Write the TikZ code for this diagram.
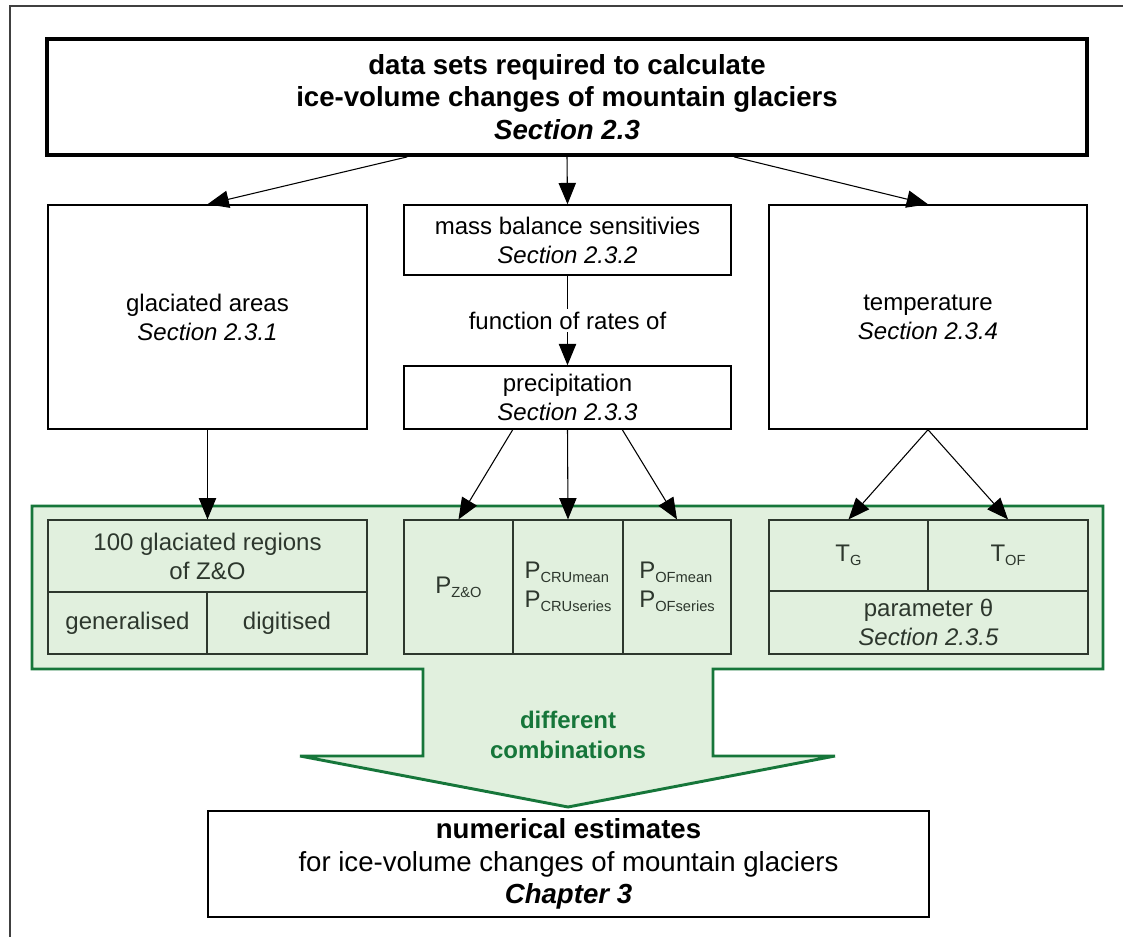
\documentclass[tikz,border=0pt]{standalone}
\usepackage{fontspec}
\setmainfont{Liberation Sans}
\usetikzlibrary{arrows.meta, positioning, calc}
\definecolor{framegreen}{RGB}{22,118,58}
\definecolor{palegreen}{RGB}{225,240,222}
\definecolor{cellline}{RGB}{45,55,45}
\newcommand{\lowsub}[1]{\raisebox{-3pt}{\fontsize{11}{11}\selectfont #1}}

\begin{document}
\begin{tikzpicture}[x=0.75pt, y=-0.75pt,
  txt/.style={font=\fontsize{18}{21.75}\selectfont, align=center},
  bigtxt/.style={font=\fontsize{20.7}{24.4}\selectfont, align=center},
  outerbox/.style={draw, line width=1.1pt, inner sep=0pt, txt},
  cell/.style={draw=cellline, line width=0.9pt, inner sep=0pt, text=cellline, txt},
  arr/.style={-{Triangle[length=16pt,width=13pt]}, line width=0.8pt}]
  \useasboundingbox (0,0) rectangle (1123,937);
  \draw[black!75, line width=1.1pt] (10,937) -- (10,6) -- (1123,6);
  \draw[framegreen, line width=2.2pt, fill=palegreen] (32,506) -- (1103,506) -- (1103,669) -- (713,669) -- (713,756) -- (835,756)
    -- (568,807) -- (300,756) -- (423,756) -- (423,669) -- (32,669) -- cycle;

  \node[outerbox, line width=2.8pt, minimum width=780pt, minimum height=87pt, bigtxt, font={\fontsize{20.7}{24.4}\selectfont\bfseries}] (title) at (567,97)
    {data sets required to calculate\\ice-volume changes of mountain glaciers\\\textit{Section 2.3}};
  \node[outerbox, minimum width=239pt, minimum height=168pt] (areas) at (207.5,317) {glaciated areas\\\textit{Section 2.3.1}};
  \node[outerbox, minimum width=245pt, minimum height=52.5pt] (massbal) at (567.5,240) {mass balance sensitivies\\\textit{Section 2.3.2}};
  \node[outerbox, minimum width=245pt, minimum height=47.25pt] (precip) at (567.5,397.5) {precipitation\\\textit{Section 2.3.3}};
  \node[outerbox, minimum width=238.5pt, minimum height=168pt] (temp) at (928,317) {temperature\\\textit{Section 2.3.4}};

  \node[cell, minimum width=239.25pt, minimum height=54pt] (regions) at (207.5,556) {100 glaciated regions\\of Z\&O};
  \node[cell, minimum width=119.25pt, minimum height=46.5pt] (general) at (127.5,623) {generalised};
  \node[cell, minimum width=120pt, minimum height=46.5pt] (digit) at (287,623) {digitised};
  \node[cell, minimum width=81.75pt, minimum height=100.5pt] (pzo) at (458.5,587) {P\lowsub{Z\&O}};
  \node[cell, align=left, minimum width=82.5pt, minimum height=100.5pt] (pcru) at (568,587) {P\lowsub{CRUmean}\\P\lowsub{CRUseries}};
  \node[cell, align=left, minimum width=81pt, minimum height=100.5pt] (pof) at (677,587) {P\lowsub{OFmean}\\P\lowsub{OFseries}};
  \node[cell, minimum width=119.25pt, minimum height=53.25pt] (tg) at (848.5,555.5) {T\lowsub{G}};
  \node[cell, minimum width=120pt, minimum height=53.25pt] (tof) at (1008,555.5) {T\lowsub{OF}};
  \node[cell, minimum width=239.25pt, minimum height=47.25pt] (theta) at (928.5,622.5) {parameter θ\\\textit{Section 2.3.5}};

  \node[txt, text=framegreen, font={\fontsize{18}{22.5}\selectfont\bfseries}] (combi) at (568,735) {different\\combinations};
  \node[outerbox, minimum width=540.75pt, minimum height=79.5pt, bigtxt] (estim) at (568.5,864)
    {\textbf{numerical estimates}\\for ice-volume changes of mountain glaciers\\\textbf{\textit{Chapter 3}}};

  \draw[arr] ($(title.south west)!0.347!(title.south east)$) -- (areas.north);
  \draw[arr] (title.south) -- (massbal.north);
  \draw[arr] ($(title.south west)!0.66!(title.south east)$) -- (temp.north);
  \draw[arr] (massbal) -- node[fill=white, txt, inner sep=2pt] (rates) {function of rates of} (precip);
  \draw[arr] (areas.south) -- (regions.north);
  \draw[arr] ($(precip.south west)!0.333!(precip.south east)$) -- (pzo.north);
  \draw[arr] (precip.south) -- (pcru.north);
  \draw[arr] ($(precip.south west)!0.667!(precip.south east)$) -- (pof.north);
  \draw[arr] (temp.south) -- (tg.north);
  \draw[arr] (temp.south) -- (tof.north);
\end{tikzpicture}
\end{document}
